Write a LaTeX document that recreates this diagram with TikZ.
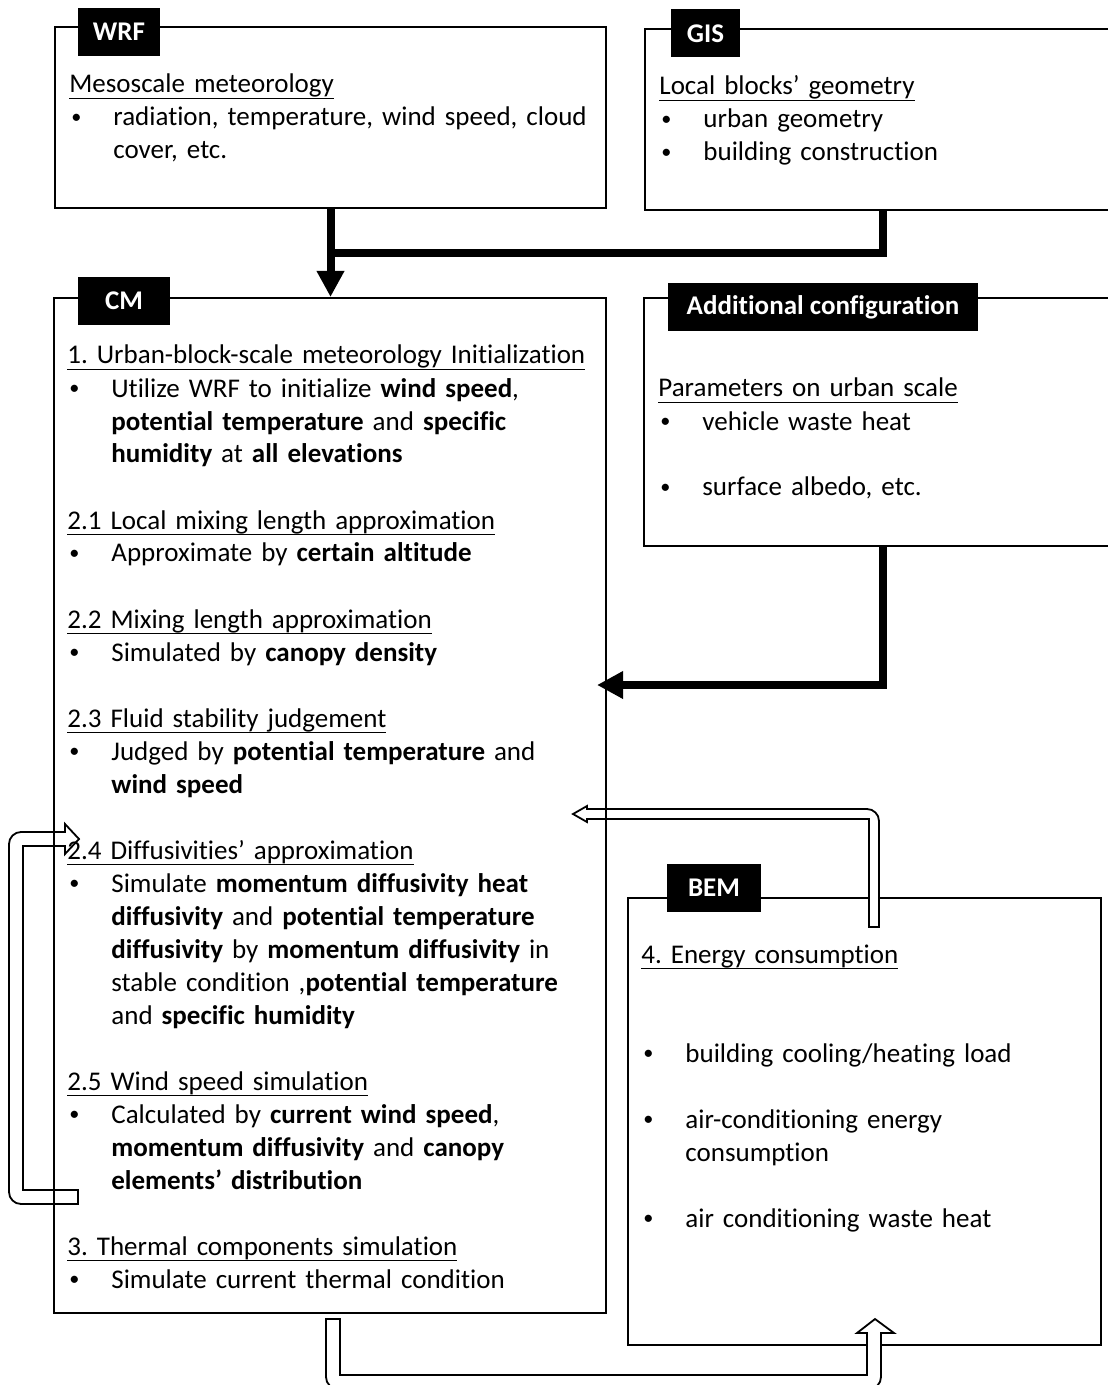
\documentclass[tikz,border=0pt]{standalone}
\usepackage{fontspec}
\setmainfont{Carlito}[Ligatures=NoCommon]
\usetikzlibrary{arrows.meta, positioning, calc}
\frenchspacing

\newsavebox{\headbox}
\newcommand{\sechead}[1]{\par\noindent\sbox{\headbox}{#1}\rlap{\rule[-3pt]{\wd\headbox}{0.7pt}}\usebox{\headbox}}
\newcommand{\bitem}{\par\hangindent=22pt\hangafter=1\noindent\makebox[22pt][l]{\hspace{1pt}\raisebox{0.2ex}{\scalebox{0.75}{•}}}}
\newcommand{\skipline}{\par\vspace{16.5pt}}

\begin{document}
\begin{tikzpicture}[
  x=0.5pt, y=-0.5pt,
  panel/.style={draw, line width=1pt, inner sep=0, anchor=north west},
  tab/.style={fill=black, text=white, inner sep=0, minimum height=24pt, font=\bfseries\fontsize{13.5}{16.5}\selectfont},
  content/.style={anchor=base west, inner sep=0, text width=280pt, align=left, font=\fontsize{13.5}{16.5}\selectfont},
  feed/.style={line width=4pt, -{Triangle[length=13pt, width=13pt]}},
  feedline/.style={line width=4pt},
  hollow/.style={draw, fill=white, line width=0.9pt, line join=miter}
]
  \path[use as bounding box, fill=white] (0,0) rectangle (1107,1385);

  % input boxes
  \node[panel, minimum width=275.5pt, minimum height=90.5pt] (wrf) at (54,26) {};
  \node[tab, minimum width=41pt] (wrftab) at ($(wrf.north west)+(65,6)$) {WRF};
  \node[content] (wrftxt) at ($(wrf.north west)+(15,34)$) {%
    \sechead{Mesoscale meteorology}
    \bitem radiation, temperature, wind speed, cloud\newline cover, etc.\par};

  \node[panel, minimum width=238pt, minimum height=90.5pt] (gis) at (644,28) {};
  \node[tab, minimum width=34.5pt] (gistab) at ($(gis.north west)+(61.5,5.5)$) {GIS};
  \node[content] (gistxt) at ($(gis.north west)+(15,34)$) {%
    \sechead{Local blocks’ geometry}
    \bitem urban geometry
    \bitem building construction\par};

  \node[panel, minimum width=238.5pt, minimum height=124pt] (addc) at (643,297) {};
  \node[tab, minimum width=155pt] (addtab) at ($(addc.north west)+(180,10)$) {Additional configuration};
  \node[content] (addtxt) at ($(addc.north west)+(15,67)$) {%
    \sechead{Parameters on urban scale}
    \bitem vehicle waste heat
    \skipline
    \bitem surface albedo, etc.\par};

  \node[panel, minimum width=236.5pt, minimum height=223.5pt] (bem) at (627,897) {};
  \node[tab, minimum width=47pt] (bemtab) at ($(bem.north west)+(87,-9.5)$) {BEM};
  \node[content] (bemtxt) at ($(bem.north west)+(14,33)$) {%
    \sechead{4. Energy consumption}
    \skipline\vspace{16.5pt}
    \bitem building cooling/heating load
    \skipline
    \bitem air-conditioning energy\newline consumption
    \skipline
    \bitem air conditioning waste heat\par};

  % hollow arrows
  \draw[hollow] (869,927) -- (869,819) -- (587,819) -- (587,822) -- (573,814) -- (587,806) -- (587,809)
    [rounded corners=6] -- (879,809) [sharp corners] -- (879,927) -- cycle;
  \draw[hollow] (78,1190) -- (23,1190) -- (23,846) -- (65,846) -- (65,854) -- (79,839) -- (65,824) -- (65,832)
    [rounded corners=6] -- (9,832) -- (9,1204) [sharp corners] -- (78,1204) -- cycle;
  \draw[hollow] (326,1319) -- (340,1319) -- (340,1375) -- (867,1375) -- (867,1333) -- (857,1333) -- (875,1319)
    -- (894,1333) -- (881,1333) [rounded corners=6] -- (881,1389) -- (326,1389) [sharp corners] -- cycle;

  % core model
  \node[panel, minimum width=276pt, minimum height=507.5pt] (cm) at (53,297) {};
  \node[tab, minimum width=46pt] (cmtab) at ($(cm.north west)+(71,4)$) {CM};
  \node[content] (cmtxt) at ($(cm.north west)+(14,34)$) {%
    \sechead{1. Urban-block-scale meteorology Initialization}
    \bitem Utilize WRF to initialize \textbf{wind speed},\newline
      \textbf{potential temperature} and \textbf{specific}\newline
      \textbf{humidity} at \textbf{all elevations}
    \skipline
    \sechead{2.1 Local mixing length approximation}
    \bitem Approximate by \textbf{certain altitude}
    \skipline
    \sechead{2.2 Mixing length approximation}
    \bitem Simulated by \textbf{canopy density}
    \skipline
    \sechead{2.3 Fluid stability judgement}
    \bitem Judged by \textbf{potential temperature} and\newline
      \textbf{wind speed}
    \skipline
    \sechead{2.4 Diffusivities’ approximation}
    \bitem Simulate \textbf{momentum diffusivity heat}\newline
      \textbf{diffusivity} and \textbf{potential temperature}\newline
      \textbf{diffusivity} by \textbf{momentum diffusivity} in\newline
      stable condition ,\textbf{potential temperature}\newline
      and \textbf{specific humidity}
    \skipline
    \sechead{2.5 Wind speed simulation}
    \bitem Calculated by \textbf{current wind speed},\newline
      \textbf{momentum diffusivity} and \textbf{canopy}\newline
      \textbf{elements’ distribution}
    \skipline
    \sechead{3. Thermal components simulation}
    \bitem Simulate current thermal condition\par};

  % solid feeds
  \coordinate (joint) at ($(wrf.south)!0.5!(wrf.south |- cm.north)$);
  \coordinate (cmport) at ($(cm.north east)+(-10,388)$);
  \draw[feed] (wrf.south) -- (wrf.south |- cm.north);
  \draw[feedline] (gis.south) |- (joint);
  \draw[feed] (addc.south) |- (cmport);
\end{tikzpicture}
\end{document}
